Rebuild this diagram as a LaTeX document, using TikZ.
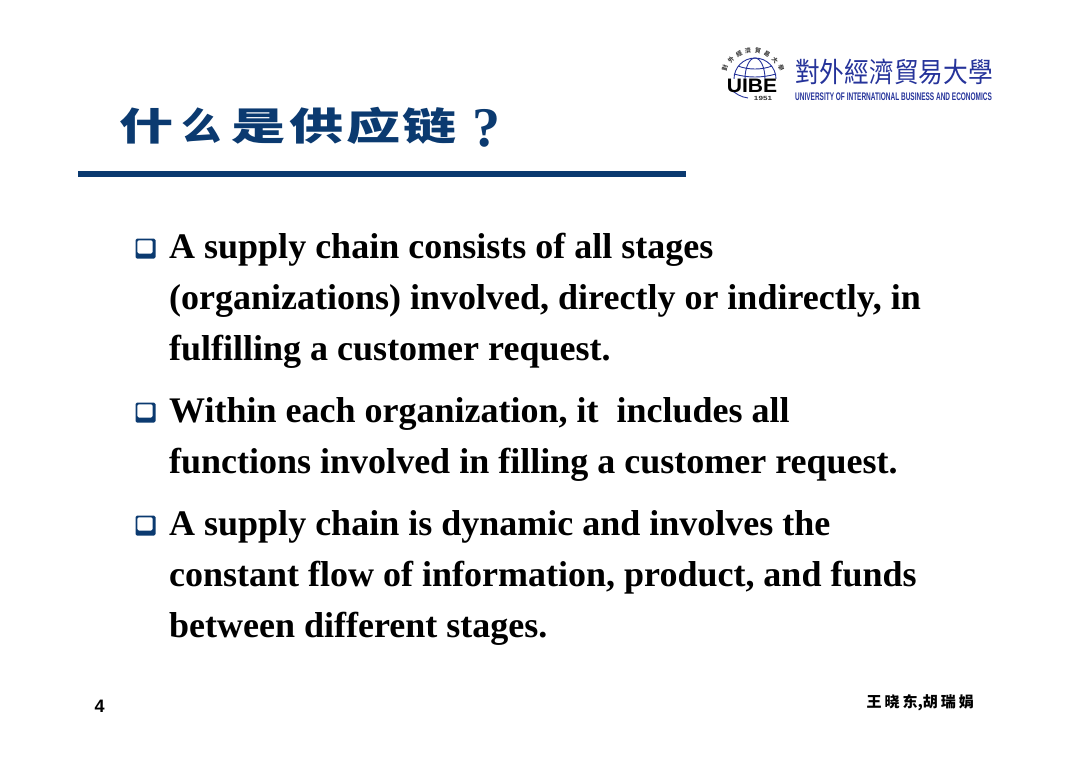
\documentclass[tikz,border=0pt]{standalone}
\usepackage{fontspec}
\setmainfont{Liberation Serif}
\newfontfamily\arialf{Liberation Sans}
\newfontfamily\cjktc{Noto Sans CJK TC}
\newfontfamily\cjksc{Noto Sans CJK SC}
\definecolor{uibeblue}{HTML}{0B3A70}
\definecolor{logoblue}{HTML}{25339A}
\newcommand{\tw}[2]{\scalebox{#1}[0.87]{#2}}
\newcommand{\sealch}[4]{\node[seal,rotate=#3] (#4) at #1 {#2};}
\tikzset{
  body/.style={anchor=base west,inner sep=0pt,font=\fontsize{36}{36}\selectfont\bfseries,text=black},
  bullet/.style={fill=uibeblue,rounded corners=1.5pt,minimum size=20pt,inner sep=0pt,
    path picture={\fill[white] ([shift={(1.8pt,-1.8pt)}]path picture bounding box.north west) rectangle ([shift={(-2.8pt,5pt)}]path picture bounding box.south east);}},
  seal/.style={inner sep=0pt,font=\cjktc\bfseries\fontsize{6}{6}\selectfont,text=black!75},
}
\begin{document}
\begin{tikzpicture}[x=1pt,y=-1pt]
\useasboundingbox (0,0) rectangle (1080,763);
% title
\node[anchor=base west,inner sep=0pt,text=uibeblue] (title) at (119,140)
  {\cjksc\bfseries\fontsize{44}{44}\selectfont\tw{1.23}{什}\hspace{8pt}\tw{0.91}{么}\hspace{10pt}\tw{1.23}{是}\hspace{4pt}\tw{1.23}{供}\hspace{3pt}\tw{1.23}{应}\hspace{2pt}\tw{1.23}{链}};
\node[anchor=base west,inner sep=0pt,text=uibeblue] (qm) at (472,146)
  {\fontsize{56}{56}\selectfont\bfseries ?};
\draw[uibeblue,line width=6pt] (78,174) -- (686,174);
% logo globe
\begin{scope}
\clip (725,50) rectangle (785,78);
\begin{scope}[logoblue,line width=0.9pt]
\draw (755,79) circle (21);
\draw (755,79) ellipse (10 and 21);
\draw (738,66) .. controls (748,70) and (762,70) .. (772,66);
\draw (734,74) .. controls (748,78) and (762,78) .. (776,74);
\end{scope}
\end{scope}
\draw[logoblue,line width=0.9pt] (730,88) .. controls (735,94) and (741,97) .. (748,98);
\node[anchor=base,inner sep=0pt,font=\arialf\bfseries\fontsize{19.5}{19.5}\selectfont,text=black] (uibe) at (752,92) {\scalebox{1.08}[1]{UIBE}};
\node[anchor=base,inner sep=0pt,font=\arialf\bfseries\fontsize{6}{6}\selectfont,text=black!80] (year) at (763,100) {\scalebox{1.35}[1]{1951}};
\sealch{(725,68)}{對}{75}{s1}
\sealch{(731,60)}{外}{50}{s2}
\sealch{(739,54)}{經}{30}{s3}
\sealch{(748,51)}{濟}{10}{s4}
\sealch{(758,51)}{貿}{-10}{s5}
\sealch{(767,54)}{易}{-30}{s6}
\sealch{(775,60)}{大}{-50}{s7}
\sealch{(781,68)}{學}{-75}{s8}
\node[anchor=base west,inner sep=0pt,text=logoblue] (unicn) at (795,82)
  {\cjktc\fontsize{24.7}{24.7}\selectfont\scalebox{1}[1.12]{對外經濟貿易大學}};
\node[anchor=base west,inner sep=0pt,text=logoblue] (unien) at (795,100)
  {\arialf\bfseries\fontsize{11}{11}\selectfont\scalebox{0.59}[1]{UNIVERSITY OF INTERNATIONAL BUSINESS AND ECONOMICS}};
% bullets
\node[bullet] (b1) at (145.5,248.5) {};
\node[bullet] (b2) at (145.5,412.5) {};
\node[bullet] (b3) at (145.5,525.5) {};
% body
\node[body] (l1) at (169,258.5) {A supply chain consists of all stages};
\node[body] (l2) at (169,309.5) {(organizations) involved, directly or indirectly, in};
\node[body] (l3) at (169,360.5) {fulfilling a customer request.};
\node[body] (l4) at (169,422.5) {Within each organization, it\ \ includes all};
\node[body] (l5) at (169,473.5) {functions involved in filling a customer request.};
\node[body] (l6) at (169,535.5) {A supply chain is dynamic and involves the};
\node[body] (l7) at (169,586.5) {constant flow of information, product, and funds};
\node[body] (l8) at (169,637.5) {between different stages.};
% footer
\node[anchor=base west,inner sep=0pt,font=\arialf\bfseries\fontsize{18}{18}\selectfont] (page) at (94.5,712) {4};
\node[anchor=base east,inner sep=0pt] (auth) at (974,707)
  {\cjktc\bfseries\fontsize{15}{15}\selectfont 王\hspace{3pt}晓\hspace{3pt}东,胡\hspace{3pt}瑞\hspace{3pt}娟};
\end{tikzpicture}
\end{document}
